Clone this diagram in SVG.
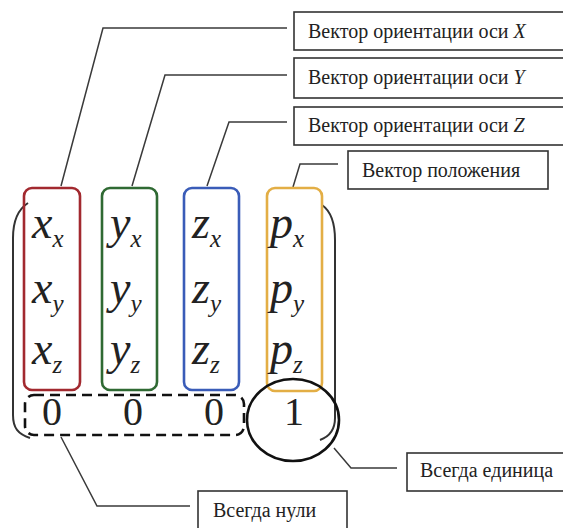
<svg xmlns="http://www.w3.org/2000/svg" width="563" height="528" viewBox="0 0 563 528">
  <style>
    .lbl { fill: #fff; stroke: #333; stroke-width: 1.6; }
    .lbltxt { font-family: "Liberation Serif", "Times New Roman", serif; font-size: 20px; fill: #222; }
    .lead { fill: none; stroke: #3a3a3a; stroke-width: 1.5; }
    .col { fill: none; stroke-width: 2.6; }
    .m { font-family: "Liberation Serif", "Times New Roman", serif; font-style: italic; font-size: 46px; fill: #222; }
    .s { font-size: 25px; }
    .num { font-family: "Liberation Serif", "Times New Roman", serif; font-size: 40px; fill: #222; text-anchor: middle; }
    .paren { fill: none; stroke: #333; stroke-width: 2; }
  </style>

  <rect width="563" height="528" fill="#fff"/>

  <!-- leader lines -->
  <g id="connectors">
    <polyline class="lead" points="61,186 103,28 287,28"/>
    <polyline class="lead" points="132,186 165,75 287,75"/>
    <polyline class="lead" points="207,186 229,122 287,122"/>
    <polyline class="lead" points="293,187 300,164 338,164"/>
    <polyline class="lead" points="334,448 351,468 397,468"/>
    <polyline class="lead" points="61,437 97,506 190,506"/>
  </g>

  <!-- matrix brackets -->
  <g id="brackets">
    <path class="paren" d="M28,203 C17,210 13,222 13,238 L13,415 C13,428 18,434 30,438"/>
    <path class="paren" d="M322,205 C332,212 335,225 335,240 L335,418 C335,428 331,436 320,440"/>
  </g>

  <!-- column X -->
  <g id="col-x">
    <rect class="col" x="24" y="188" width="56" height="202" rx="8" stroke="#a2292f"/>
    <text class="m" x="32" y="238">x<tspan class="s" dy="9">x</tspan></text>
    <text class="m" x="32" y="303">x<tspan class="s" dy="9">y</tspan></text>
    <text class="m" x="32" y="364">x<tspan class="s" dy="9">z</tspan></text>
  </g>

  <!-- column Y -->
  <g id="col-y">
    <rect class="col" x="102" y="188" width="55" height="202" rx="8" stroke="#2f6a33"/>
    <text class="m" x="110" y="238">y<tspan class="s" dy="9">x</tspan></text>
    <text class="m" x="110" y="303">y<tspan class="s" dy="9">y</tspan></text>
    <text class="m" x="110" y="364">y<tspan class="s" dy="9">z</tspan></text>
  </g>

  <!-- column Z -->
  <g id="col-z">
    <rect class="col" x="184" y="188" width="55" height="202" rx="8" stroke="#3a5cb8"/>
    <text class="m" x="192" y="238">z<tspan class="s" dy="9">x</tspan></text>
    <text class="m" x="192" y="303">z<tspan class="s" dy="9">y</tspan></text>
    <text class="m" x="192" y="364">z<tspan class="s" dy="9">z</tspan></text>
  </g>

  <!-- column P -->
  <g id="col-p">
    <rect class="col" x="267" y="188" width="55" height="203" rx="8" stroke="#e3ae45"/>
    <text class="m" x="270" y="238">p<tspan class="s" dy="9">x</tspan></text>
    <text class="m" x="270" y="303">p<tspan class="s" dy="9">y</tspan></text>
    <text class="m" x="270" y="364">p<tspan class="s" dy="9">z</tspan></text>
  </g>

  <!-- bottom row -->
  <g id="zeros">
    <rect x="25" y="395" width="219" height="40" rx="9" fill="none" stroke="#111" stroke-width="2.6" stroke-dasharray="10 6"/>
    <text class="num" x="52" y="425">0</text>
    <text class="num" x="133" y="425">0</text>
    <text class="num" x="214" y="425">0</text>
  </g>
  <g id="one">
    <ellipse cx="293" cy="420" rx="46" ry="41" fill="none" stroke="#111" stroke-width="2.6"/>
    <text class="num" x="294" y="425">1</text>
  </g>

  <!-- labels -->
  <g id="label-x">
    <rect class="lbl" x="294" y="12" width="280" height="38"/>
    <text class="lbltxt" x="308" y="38">Вектор ориентации оси <tspan font-style="italic">X</tspan></text>
  </g>
  <g id="label-y">
    <rect class="lbl" x="294" y="58" width="280" height="40"/>
    <text class="lbltxt" x="308" y="84">Вектор ориентации оси <tspan font-style="italic">Y</tspan></text>
  </g>
  <g id="label-z">
    <rect class="lbl" x="294" y="107" width="280" height="38"/>
    <text class="lbltxt" x="308" y="132">Вектор ориентации оси <tspan font-style="italic">Z</tspan></text>
  </g>
  <g id="label-p">
    <rect class="lbl" x="348" y="151" width="200" height="38"/>
    <text class="lbltxt" x="362" y="177">Вектор положения</text>
  </g>
  <g id="label-one">
    <rect class="lbl" x="407" y="453" width="170" height="38"/>
    <text class="lbltxt" x="420" y="477">Всегда единица</text>
  </g>
  <g id="label-zeros">
    <rect class="lbl" x="198" y="491" width="149" height="45"/>
    <text class="lbltxt" x="213" y="517">Всегда нули</text>
  </g>
</svg>
